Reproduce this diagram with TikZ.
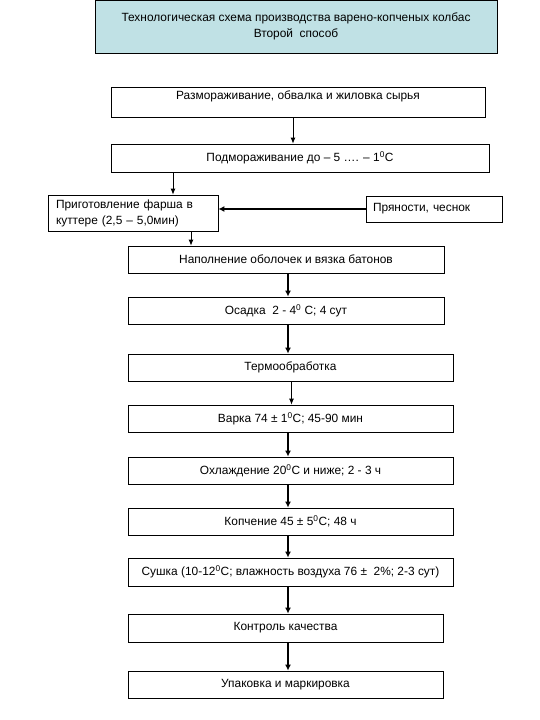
\documentclass[tikz,border=0pt]{standalone}
\usepackage{fontspec}
\setmainfont{Liberation Sans}
\usetikzlibrary{arrows.meta,positioning}
\definecolor{titlefill}{RGB}{192,225,229}

\begin{document}
\begin{tikzpicture}[x=1pt,y=-1pt,every node/.style={shape=rectangle,draw,line width=0.8pt,align=center,inner sep=0,font=\fontsize{11.9}{16}\selectfont},flow/.style={draw=black,line width=0.8pt,-{Latex[length=6pt,width=5pt]}},bold flow/.style={draw=black,line width=1.6pt,-{Latex[length=6pt,width=6pt]}}]

\useasboundingbox (0,0) rectangle (540,720);

\node [fill=titlefill, minimum width=402, minimum height=53, text depth=3pt] (title) at (296,26.5) {Технологическая схема производства варено-копченых колбас\\Второй\ \ способ};
\node [minimum width=374, minimum height=30, text height=8pt, text depth=14pt] (thaw) at (298,102) {Размораживание, обвалка и жиловка сырья};
\node [minimum width=378, minimum height=28] (chill) at (300,158) {Подмораживание до – 5 …. – 1\textsuperscript{0}С};
\node [minimum width=170, minimum height=36, text width=154, align=left] (mince) at (133,213) {Приготовление фарша в\\куттере (2,5 – 5,0мин)};
\node [minimum width=136, minimum height=26, text width=122, align=left] (spice) at (434,209) {Пряности, чеснок};
\node [minimum width=316, minimum height=27] (casing) at (286,259.5) {Наполнение оболочек и вязка батонов};
\node [minimum width=316, minimum height=27] (settle) at (286,310.5) {Осадка\ \ 2 - 4\textsuperscript{0} С; 4 сут};
\node [minimum width=325, minimum height=27] (heat) at (290.5,367.5) {Термообработка};
\node [minimum width=325, minimum height=27] (boil) at (290.5,418.5) {Варка 74 ± 1\textsuperscript{0}С; 45-90 мин};
\node [minimum width=325, minimum height=27] (cool) at (290.5,470.5) {Охлаждение 20\textsuperscript{0}С и ниже; 2 - 3 ч};
\node [minimum width=325, minimum height=27] (smoke) at (290.5,521.5) {Копчение 45 ± 5\textsuperscript{0}С; 48 ч};
\node [minimum width=325, minimum height=28] (dry) at (290.5,572) {Сушка (10-12\textsuperscript{0}С; влажность воздуха 76 ±\ \ 2\%; 2-3 сут)};
\node [minimum width=315, minimum height=28] (check) at (285.5,628) {Контроль качества};
\node [minimum width=315, minimum height=27] (pack) at (285.5,684.5) {Упаковка и маркировка};

\coordinate (c1) at ([xshift=-5pt]thaw.south);
\coordinate (c2) at ([xshift=40pt]mince.north);
\coordinate (c3) at ([xshift=58pt]mince.south);
\coordinate (axis) at ([xshift=2pt]casing.south);

\path[flow] (c1) -- (c1 |- chill.north);
\path[flow] (c2 |- chill.south) -- (c2);
\path[bold flow] (spice.west) -- (spice.west -| mince.east);
\path[flow] (c3) -- (c3 |- casing.north);
\path[bold flow] (casing.south -| axis) -- (settle.north -| axis);
\path[bold flow] (settle.south -| axis) -- (heat.north -| axis);
\path[flow] ([xshift=1pt]heat.south) -- ([xshift=1pt]boil.north);
\path[bold flow] (boil.south -| axis) -- (cool.north -| axis);
\path[bold flow] (cool.south -| axis) -- (smoke.north -| axis);
\path[bold flow] (smoke.south -| axis) -- (dry.north -| axis);
\path[bold flow] (dry.south -| axis) -- (check.north -| axis);
\path[bold flow] (check.south -| axis) -- (pack.north -| axis);

\end{tikzpicture}
\end{document}
